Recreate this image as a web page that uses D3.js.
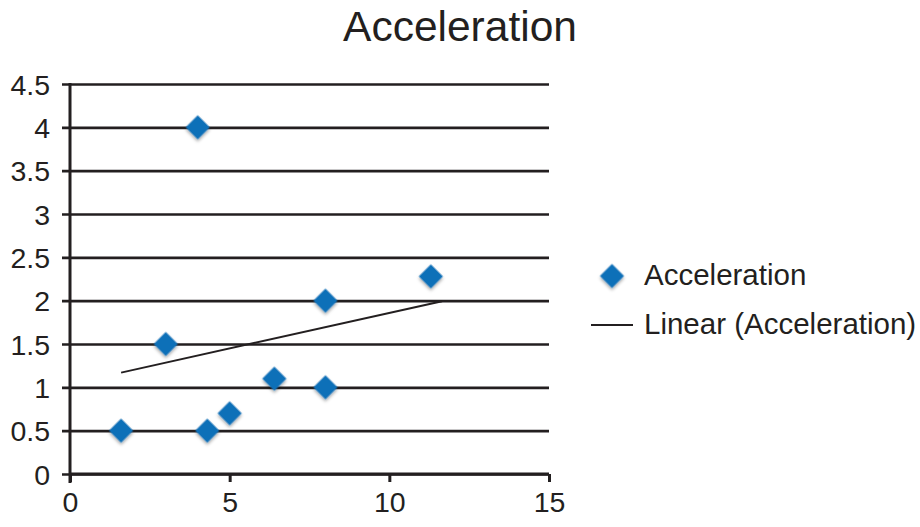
<!DOCTYPE html>
<html>
<head>
<meta charset="utf-8">
<script src="https://cdn.jsdelivr.net/npm/d3@7"></script>
<style>
  html, body { margin: 0; padding: 0; background: #fff; }
  svg { display: block; font-family: "Liberation Sans", Arial, Helvetica, sans-serif; }
</style>
</head>
<body>
<svg id="chart" width="920" height="527"></svg>
<script>
// Measurements
const xValues = [1.6, 3.0, 4.0, 4.3, 5.0, 6.4, 8.0, 8.0, 11.3];
const yValues = [0.5, 1.5, 4.0, 0.5, 0.7, 1.1, 2.0, 1.0, 2.28];
const xTicks = [0, 5, 10, 15];
const yTicks = [0, 0.5, 1, 1.5, 2, 2.5, 3, 3.5, 4, 4.5];
const seriesName = "Acceleration";
const trendName = "Linear (Acceleration)";
const trendForward = 0.35;

const svg = d3.select("#chart");
const ink = "#231f20";
const blue = "#1170b8";

const x = d3.scaleLinear().domain([0, 15]).range([70, 549]);
const y = d3.scaleLinear().domain([0, 4.5]).range([474, 84]);

// soft shadow under markers
const defs = svg.append("defs");
const f = defs.append("filter").attr("id", "shadow")
  .attr("x", "-50%").attr("y", "-50%").attr("width", "200%").attr("height", "200%");
f.append("feDropShadow").attr("dx", 1.5).attr("dy", 1.5)
  .attr("stdDeviation", 1.4).attr("flood-color", "#000").attr("flood-opacity", 0.35);

// title
svg.append("text").attr("x", 460).attr("y", 41).attr("text-anchor", "middle")
  .attr("font-size", 42.5).attr("fill", ink).text(seriesName);

// horizontal gridlines with left tick stubs
const yAxis = d3.axisLeft(y).tickValues(yTicks).tickSize(-(549 - 70)).tickPadding(0)
  .tickFormat(d3.format(""));
const gy = svg.append("g").attr("transform", "translate(70,0)").call(yAxis);
gy.select(".domain").remove();
gy.selectAll(".tick line").attr("x1", -8).attr("x2", 549 - 70)
  .attr("stroke", ink).attr("stroke-width", 2.6);
gy.selectAll(".tick text").attr("x", -20).attr("dy", "0.36em")
  .attr("font-size", 28.5).attr("fill", ink).attr("font-family", null);

// x axis
const xAxis = d3.axisBottom(x).tickValues(xTicks).tickSize(8).tickPadding(4);
const gx = svg.append("g").attr("transform", `translate(0,${y(0)})`).call(xAxis);
gx.select(".domain").attr("d", `M${x(0)},0H${x(15)}`)
  .attr("stroke", ink).attr("stroke-width", 3);
gx.selectAll(".tick line").attr("stroke", ink).attr("stroke-width", 3);
gx.selectAll(".tick text").attr("font-size", 28.5).attr("fill", ink)
  .attr("font-family", null).attr("dy", "0.9em");

// vertical axis line
svg.append("line").attr("x1", x(0)).attr("x2", x(0))
  .attr("y1", y(4.5) - 1).attr("y2", y(0) + 9)
  .attr("stroke", ink).attr("stroke-width", 3);

// least-squares trendline
const pts = xValues.map((v, i) => [v, yValues[i]]);
const mx = d3.mean(xValues), my = d3.mean(yValues);
const slope = d3.sum(pts, p => (p[0] - mx) * (p[1] - my)) / d3.sum(xValues, v => (v - mx) ** 2);
const icpt = my - slope * mx;
const [x0, x1] = d3.extent(xValues);
const trendX = [x0, x1 + trendForward];
svg.append("path")
  .attr("d", d3.line().x(d => x(d)).y(d => y(icpt + slope * d))(trendX))
  .attr("fill", "none").attr("stroke", ink).attr("stroke-width", 2);

// markers
const diamond = d3.symbol().type(d3.symbolSquare).size(290);
svg.append("g").selectAll("path").data(pts).join("path")
  .attr("d", diamond)
  .attr("transform", d => `translate(${x(d[0])},${y(d[1])}) rotate(45)`)
  .attr("fill", blue).attr("filter", "url(#shadow)");

// legend
const lg = svg.append("g");
lg.append("path").attr("d", diamond)
  .attr("transform", "translate(612,276) rotate(45)")
  .attr("fill", blue).attr("filter", "url(#shadow)");
lg.append("text").attr("x", 644).attr("y", 285).attr("font-size", 29.5)
  .attr("fill", ink).text(seriesName);
lg.append("line").attr("x1", 591).attr("x2", 633).attr("y1", 325).attr("y2", 325)
  .attr("stroke", ink).attr("stroke-width", 2);
lg.append("text").attr("x", 644).attr("y", 334).attr("font-size", 29.5)
  .attr("fill", ink).text(trendName);
</script>
</body>
</html>
